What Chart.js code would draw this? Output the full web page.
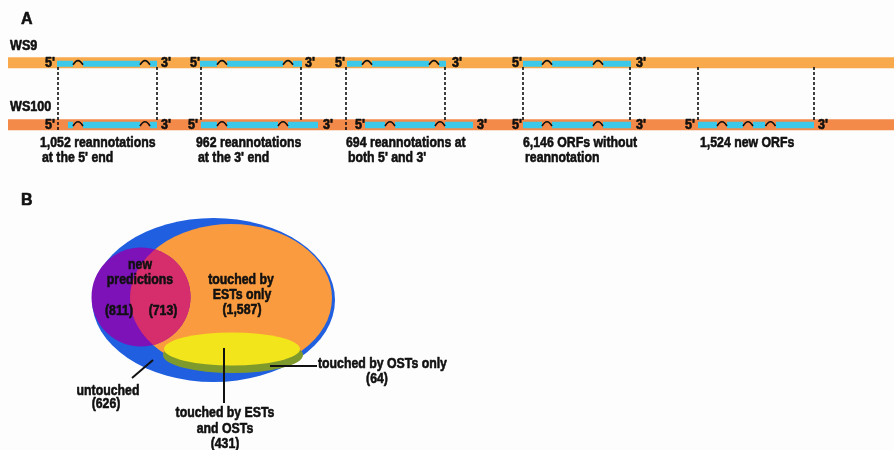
<!DOCTYPE html>
<html><head><meta charset="utf-8">
<script src="https://cdn.jsdelivr.net/npm/chart.js@4.4.1/dist/chart.umd.min.js"></script>
<style>html,body{margin:0;padding:0;background:#fdfdfd;}#wrap{width:894px;height:450px;position:relative;}</style>
</head><body><div id="wrap"><canvas id="c"></canvas></div>
<script>
// ---------------- data ----------------
const releases = ['WS9', 'WS100'];
const orfCounts = [1052, 962, 694, 6146, 1524];
const orfCategories = [
  ["reannotations", "at the 5' end"],
  ["reannotations", "at the 3' end"],
  ["reannotations at", "both 5' and 3'"],
  ["ORFs without", "reannotation"],
  ["new ORFs"]
];
const vennNames = ['new predictions', 'touched by ESTs only', 'touched by OSTs only', 'touched by ESTs and OSTs', 'untouched'];
const vennCounts = [811, 713, 1587, 64, 431, 626]; // new-pred untouched, new-pred touched, ESTs only, OSTs only, both, untouched

// ---------------- layout (axis units) ----------------
const bandY = [62.8, 124.7];
const bandH = [11, 11];
const bandColors = ['#f8a94b', '#f38a4a'];
const exonY = [63.8, 125];
const ws9Exons = [
  [[57,73],[83,140],[150,157]],
  [[200,217],[227,283],[293,302]],
  [[347,362],[372,429],[439,446]],
  [[523,542],[552,593],[603,631]],
  null
];
const ws100Exons = [
  [[68,73],[83,140],[150,157]],
  [[201,217],[227,278],[288,318]],
  [[365,385],[395,435],[445,473]],
  [[523,542],[552,593],[603,631]],
  [[698,717],[727,743],[753,765],[776,814]]
];
const five9 = [55,200,345,522], three9 = [161,305,452,636];
const five100 = [55,198,365,522,695], three100 = [161,323,477,636,818];
const dashX = [[58,157],[201,301],[346,445],[523,630],[698,814]];
const dashLong = [true,false,true,false,false];
const descX = [40,196,346,523,700];

const FONT = "'Liberation Sans',Arial,Helvetica,sans-serif";
const CONDENSE = 0.82;

const datasets = [];
bandY.forEach((y,i)=>datasets.push({data:[{x:8,y},{x:894,y}],showLine:true,borderColor:bandColors[i],borderWidth:bandH[i],pointRadius:0,order:5,clip:false}));
function exonData(list,y){const d=[];list.forEach(g=>{if(!g)return;g.forEach(e=>{d.push({x:e[0],y},{x:e[1],y},{x:e[1]+0.5,y:null});});});return d;}
datasets.push({data:exonData(ws9Exons,exonY[0]),showLine:true,spanGaps:false,borderColor:'#3cc8e8',borderWidth:6,pointRadius:0,order:4,clip:false});
datasets.push({data:exonData(ws100Exons,exonY[1]),showLine:true,spanGaps:false,borderColor:'#3cc8e8',borderWidth:6.5,pointRadius:0,order:4,clip:false});
const dashData=[];
dashX.forEach((p,i)=>{dashData.push({x:p[0],y:67},{x:p[0],y:dashLong[i]?130:120},{x:p[0]+0.1,y:null});dashData.push({x:p[1],y:67},{x:p[1],y:120},{x:p[1]+0.1,y:null});});
datasets.push({data:dashData,showLine:true,spanGaps:false,borderColor:'#111',borderWidth:1.6,borderDash:[3,2],pointRadius:0,order:1,clip:false});

const fmt = n => n.toLocaleString('en-US');

const drawPlugin = {
  id:'diagram',
  afterDatasetsDraw(chart){
    const ctx=chart.ctx, xs=chart.scales.x, ys=chart.scales.y;
    const X=v=>xs.getPixelForValue(v), Y=v=>ys.getPixelForValue(v);
    const W=v=>xs.getPixelForValue(v)-xs.getPixelForValue(0), H=v=>ys.getPixelForValue(v)-ys.getPixelForValue(0);
    // condensed, heavy text helper
    const txt=(s,x,y,align,size,k)=>{
      k=k||CONDENSE;
      ctx.save();
      ctx.font='bold '+size+'px '+FONT;
      ctx.textAlign='left'; ctx.textBaseline='middle';
      const w=ctx.measureText(s).width*k;
      let px=X(x);
      if(align==='center') px-=w/2; else if(align==='right') px-=w;
      ctx.translate(px,Y(y)); ctx.scale(k,1);
      ctx.fillStyle='#111'; ctx.strokeStyle='#111'; ctx.lineWidth=0.6; ctx.lineJoin='round';
      ctx.fillText(s,0,0);
      ctx.strokeText(s,0,0);
      ctx.restore();
    };
    ctx.save();
    // intron arcs
    ctx.strokeStyle='#111'; ctx.lineWidth=1.7;
    [[ws9Exons,exonY[0]],[ws100Exons,exonY[1]]].forEach(([list,y])=>{
      list.forEach(g=>{ if(!g) return;
        for(let k=0;k<g.length-1;k++){
          const m=(g[k][1]+g[k+1][0])/2;
          ctx.beginPath(); ctx.moveTo(X(m-5),Y(y+1)); ctx.quadraticCurveTo(X(m),Y(y-7.5),X(m+5),Y(y+1)); ctx.stroke();
        }});
    });
    // 5'/3' labels
    five9.forEach(x=>txt("5'",x,bandY[0],'right',14,0.9));
    five100.forEach(x=>txt("5'",x,bandY[1],'right',14,0.9));
    three9.forEach(x=>txt("3'",x,bandY[0],'left',14,0.9));
    three100.forEach(x=>txt("3'",x,bandY[1],'left',14,0.9));
    // release labels
    txt(releases[0],10,46.5,'left',14,0.9);
    txt(releases[1],10,107,'left',14,0.9);
    // panel letters
    txt('A',21,19.5,'left',16,1);
    txt('B',21,201,'left',16,1);
    // descriptions
    orfCategories.forEach((lines,i)=>{
      txt(fmt(orfCounts[i])+' '+lines[0],descX[i],143,'left',15);
      if(lines[1]) txt(lines[1],descX[i]+2,157.5,'left',15);
    });
    // ---- Venn ----
    const ell=(cx,cy,rx,ry)=>{ctx.beginPath();ctx.ellipse(X(cx),Y(cy),W(rx),H(ry),0,0,Math.PI*2);};
    ell(213.5,300,121.5,82); ctx.fillStyle='#1f5fe0'; ctx.fill();
    ell(231,298,101,74); ctx.fillStyle='#f99b3e'; ctx.fill();
    ell(141,297,49.5,49.5); ctx.fillStyle='#7c12b8'; ctx.fill();
    ctx.save(); ell(231,298,101,74); ctx.clip(); ell(141,297,49.5,49.5); ctx.fillStyle='#d62e6c'; ctx.fill(); ctx.restore();
    ell(233,355,70,18); ctx.fillStyle='#7f9a2c'; ctx.fill();
    ell(232,349,68,16.5); ctx.fillStyle='#f3e51c'; ctx.fill();
    // pointer lines
    ctx.strokeStyle='#111'; ctx.lineWidth=2; ctx.setLineDash([]);
    ctx.beginPath(); ctx.moveTo(X(132),Y(378)); ctx.lineTo(X(153),Y(360)); ctx.stroke();
    ctx.beginPath(); ctx.moveTo(X(270),Y(366)); ctx.lineTo(X(317),Y(366)); ctx.stroke();
    ctx.beginPath(); ctx.moveTo(X(224),Y(348)); ctx.lineTo(X(224),Y(403)); ctx.stroke();
    // venn text
    const T=(s,x,y)=>txt(s,x,y,'center',15);
    T('new',140,265); T('predictions',140,280);
    T('('+fmt(vennCounts[0])+')',119,311); T('('+fmt(vennCounts[1])+')',163,311);
    T('touched by',241,280); T('ESTs only',242,294.5); T('('+fmt(vennCounts[2])+')',242,310);
    txt('touched by OSTs only',318,364,'left',15);
    T('('+fmt(vennCounts[3])+')',377,379);
    T('touched by ESTs',225,413); T('and OSTs',225,429); T('('+fmt(vennCounts[4])+')',225,444);
    T('untouched',108,391); T('('+fmt(vennCounts[5])+')',106,404);
    ctx.restore();
  }
};

new Chart(document.getElementById('c'),{
  type:'scatter',
  data:{datasets},
  options:{
    responsive:true, maintainAspectRatio:false, animation:false,
    layout:{padding:0},
    plugins:{legend:{display:false},tooltip:{enabled:false}},
    scales:{
      x:{type:'linear',min:0,max:894,display:false},
      y:{type:'linear',min:0,max:450,reverse:true,display:false}
    }
  },
  plugins:[drawPlugin]
});
</script></body></html>
